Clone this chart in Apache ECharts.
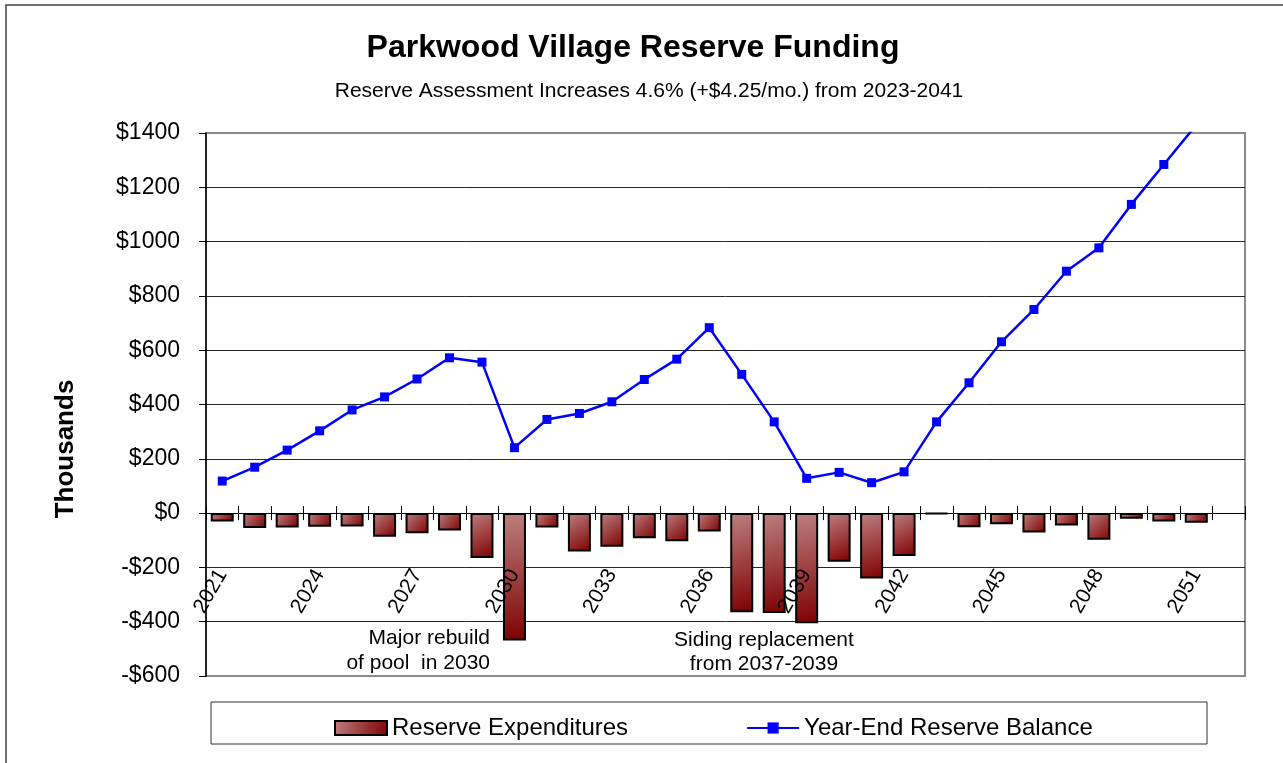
<!DOCTYPE html>
<html>
<head>
<meta charset="utf-8">
<script src="https://cdn.jsdelivr.net/npm/echarts@6/dist/echarts.min.js"></script>
<style>
html,body{margin:0;padding:0;background:#fff;}
#chart{width:1283px;height:763px;}
</style>
</head>
<body>
<div id="chart"></div>
<script>
const years = ['2021','2022','2023','2024','2025','2026','2027','2028','2029','2030','2031','2032','2033','2034','2035','2036','2037','2038','2039','2040','2041','2042','2043','2044','2045','2046','2047','2048','2049','2050','2051','2052'];
const expenditures = [-31,-55,-53,-50,-49,-87,-74,-64,-165,-469,-53,-141,-124,-93,-104,-68,-365,-368,-406,-179,-241,-158,-3,-52,-41,-71,-46,-98,-21,-31,-36,null];
const balance = [118,169,232,303,380,428,494,572,556,241,345,367,410,492,567,683,511,336,128,150,112,152,336,480,631,750,891,977,1137,1284,1430,null];
const yTicks = {min:-600, max:1400, step:200};
const titleText = 'Parkwood Village Reserve Funding';
const subtitleText = 'Reserve Assessment Increases 4.6% (+$4.25/mo.) from 2023-2041';
const yName = 'Thousands';
const notePool = 'Major rebuild\nof pool  in 2030';
const noteSiding = 'Siding replacement\nfrom 2037-2039';

const FONT = '"Liberation Sans", Arial, sans-serif';
const chart = echarts.init(document.getElementById('chart'), null, {renderer:'canvas'});

const GRID = {left: 206, top: 133, right: 38, bottom: 87};
const plotH = 763 - GRID.top - GRID.bottom;
// distance from the bottom of the plot to the zero line, so the category axis sits on $0
const zeroOffset = -plotH * (0 - yTicks.min) / (yTicks.max - yTicks.min);

const nLines = (yTicks.max - yTicks.min) / yTicks.step + 1;
const splitColors = [];
for (let i = 0; i < nLines; i++) splitColors.push(i === 0 || i === nLines - 1 ? '#8a8a8a' : '#262626');

const option = {
  backgroundColor: '#fff',
  animation: false,
  textStyle: {fontFamily: FONT},
  title: [
    {text: titleText, left: 628, top: 27, textAlign: 'center',
     textStyle: {fontFamily: FONT, fontSize: 32, fontWeight: 'bold', color: '#000'}},
    {text: subtitleText, left: 644, top: 76, textAlign: 'center',
     textStyle: {fontFamily: FONT, fontSize: 21, fontWeight: 'normal', color: '#000'}}
  ],
  grid: Object.assign({show: true, borderColor: '#8a8a8a', borderWidth: 2, backgroundColor: '#fff',
    containLabel: false, outerBoundsMode: 'none'}, GRID),
  legend: {
    left: 329, top: 711, itemWidth: 52, itemHeight: 14, itemGap: 118,
    textStyle: {fontFamily: FONT, fontSize: 24, color: '#000'},
    data: [{name: 'Reserve Expenditures', icon: 'rect'}, {name: 'Year-End Reserve Balance'}]
  },
  xAxis: [
    {
      type: 'category', data: years, position: 'bottom', offset: zeroOffset, z: 10,
      axisLine: {onZero: false, lineStyle: {color: '#000', width: 1}},
      axisTick: {show: true, interval: 0, length: 7, lineStyle: {color: '#000'}},
      axisLabel: {interval: 2, rotate: 60, margin: 58, fontSize: 21, color: '#000', fontFamily: FONT},
      splitLine: {show: false}
    },
    {
      type: 'category', data: years, position: 'bottom', offset: zeroOffset, z: 10,
      axisLine: {show: false, onZero: false},
      axisTick: {show: true, inside: true, interval: 0, length: 7, lineStyle: {color: '#000'}},
      axisLabel: {show: false},
      splitLine: {show: false}
    }
  ],
  yAxis: {
    type: 'value', min: yTicks.min, max: yTicks.max, interval: yTicks.step,
    axisLine: {show: true, onZero: false, lineStyle: {color: '#000', width: 1.5}},
    axisTick: {show: true, length: 7, lineStyle: {color: '#000'}},
    axisLabel: {margin: 26, fontSize: 23, color: '#000', fontFamily: FONT,
      formatter: v => (v < 0 ? '-$' + (-v) : '$' + v)},
    splitLine: {show: true, lineStyle: {color: splitColors, width: 1}}
  },
  series: [
    {
      name: 'Reserve Expenditures', type: 'bar', data: expenditures, barWidth: 23, z: 3,
      itemStyle: {
        color: new echarts.graphic.LinearGradient(0, 0, 1, 1, [
          {offset: 0, color: '#bd8080'},
          {offset: 1, color: '#7e0000'}
        ]),
        borderColor: '#000', borderWidth: 2
      }
    },
    {
      name: 'Year-End Reserve Balance', type: 'line', data: balance, z: 5,
      symbol: 'rect', symbolSize: 9, clip: true,
      itemStyle: {color: '#0000ff'},
      lineStyle: {color: '#0000ff', width: 2.5}
    }
  ],
  graphic: [
    {type: 'rect', shape: {x: 6, y: 5, width: 1400, height: 900}, style: {fill: 'none', stroke: '#444', lineWidth: 1.5}, z: -10, silent: true},
    {type: 'rect', shape: {x: 211, y: 702, width: 996, height: 42}, style: {fill: 'none', stroke: '#333', lineWidth: 1}, z: -5, silent: true},
    {type: 'text', x: 66, y: 449, rotation: Math.PI / 2,
     style: {text: yName, fontFamily: FONT, fontSize: 26, fontWeight: 'bold', fill: '#000', textAlign: 'center', textVerticalAlign: 'middle'}},
    {type: 'text', x: 490, y: 626, z: 10,
     style: {text: notePool, fontFamily: FONT, fontSize: 21, lineHeight: 25, fill: '#000', textAlign: 'right'}},
    {type: 'text', x: 764, y: 628, z: 10,
     style: {text: noteSiding, fontFamily: FONT, fontSize: 21, lineHeight: 24, fill: '#000', textAlign: 'center'}}
  ]
};
chart.setOption(option);
</script>
</body>
</html>
